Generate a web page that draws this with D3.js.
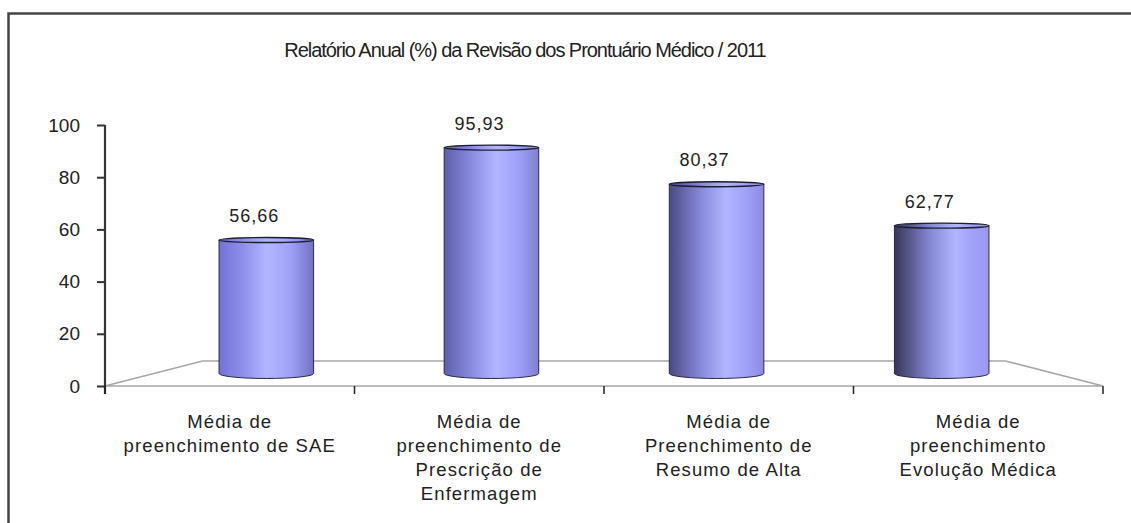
<!DOCTYPE html>
<html><head><meta charset="utf-8">
<script src="https://cdn.jsdelivr.net/npm/d3@7/dist/d3.min.js"></script>
<style>
html,body{margin:0;padding:0;background:#fff;overflow:hidden;}
svg{display:block;font-family:"Liberation Sans",Arial,sans-serif;}
</style></head><body>
<svg id="c" width="1131" height="523"></svg>
<script>
const title = "Relatório Anual (%) da Revisão dos Prontuário Médico / 2011";
const categories = [
  "Média de\npreenchimento de SAE",
  "Média de\npreenchimento de\nPrescrição de\nEnfermagem",
  "Média de\nPreenchimento de\nResumo de Alta",
  "Média de\npreenchimento\nEvolução Médica"
];
const values = [56.66, 95.93, 80.37, 62.77];
const yTicks = [0, 20, 40, 60, 80, 100];

const svg = d3.select("#c");
const W = 1131, H = 523;

// outer frame
svg.append("rect").attr("x", 8.5).attr("y", 13.5).attr("width", W + 20).attr("height", H + 20)
  .attr("fill", "none").attr("stroke", "#454545").attr("stroke-width", 2.5);

// title
svg.append("text").attr("x", 525).attr("y", 57).attr("text-anchor", "middle")
  .attr("font-size", 20).attr("letter-spacing", -1.05).attr("fill", "#222").text(title);

// scales (front plane)
const x = d3.scaleBand().domain(d3.range(categories.length)).range([105, 1103]).paddingInner(0).paddingOuter(0);
const y = d3.scaleLinear().domain([0, 100]).range([386, 125]);

// perspective projection
const VX = 604, VY = 258, K = 0.1954;
function proj(px, py, d) {
  const s = 1 - K * d;
  return [VX + (px - VX) * s, VY + (py - VY) * s];
}

// floor
const fl = [proj(105, y(0), 0), proj(1103, y(0), 0), proj(1103, y(0), 1), proj(105, y(0), 1)];
svg.append("path").attr("d", "M" + fl.map(p => p.join(",")).join("L") + "Z")
  .attr("fill", "#fff").attr("stroke", "#a8a8a8").attr("stroke-width", 1.6);

// y axis
const yAxis = d3.axisLeft(y).tickValues(yTicks).tickSize(8).tickSizeOuter(0).tickPadding(17);
const ga = svg.append("g").attr("transform", "translate(105,0)").call(yAxis);
ga.select(".domain").remove();
ga.selectAll(".tick line").attr("stroke", "#333").attr("stroke-width", 2);
ga.selectAll(".tick text").attr("font-size", 19).attr("fill", "#222")
  .attr("font-family", '"Liberation Sans",Arial,sans-serif');
svg.append("line").attr("x1", 105).attr("x2", 105).attr("y1", y(100)).attr("y2", y(0) + 8)
  .attr("stroke", "#333").attr("stroke-width", 2.2);

// category boundary ticks
const bounds = d3.range(categories.length + 1).map(i => x.range()[0] + i * x.bandwidth());
svg.selectAll("line.ct").data(bounds).enter().append("line").attr("class", "ct")
  .attr("x1", d => d).attr("x2", d => d).attr("y1", y(0)).attr("y2", y(0) + 8)
  .attr("stroke", "#222").attr("stroke-width", 1.5);

// gradients per bar
const defs = svg.append("defs");
const leftC = d3.interpolateRgb("#7272d6", "#363656");
const rightC = d3.interpolateRgb("#7272c4", "#9898ee");
values.forEach((v, i) => {
  const t = i / (values.length - 1);
  const hl = 0.5 + 0.15 * t;
  const g = defs.append("linearGradient").attr("id", "g" + i).attr("x1", 0).attr("x2", 1).attr("y1", 0).attr("y2", 0);
  g.append("stop").attr("offset", 0).attr("stop-color", leftC(t));
  g.append("stop").attr("offset", hl * 0.55).attr("stop-color", d3.interpolateRgb(leftC(t), "#9a9cf6")(0.75));
  g.append("stop").attr("offset", hl).attr("stop-color", "#b2b6ff");
  g.append("stop").attr("offset", hl + (1 - hl) * 0.5).attr("stop-color", "#a0a2fa");
  g.append("stop").attr("offset", 1).attr("stop-color", rightC(t));
});

// cylinders
const bw = x.bandwidth() * 0.42;
const bars = svg.append("g");
const fmt = d3.format(".2f");
values.forEach((v, i) => {
  const cxF = x(i) + x.bandwidth() / 2;
  const [cx, yT] = proj(cxF, y(v), 0.5);
  const [, yB] = proj(cxF, y(0), 0.5);
  const [lx] = proj(cxF - bw / 2, y(0), 0.5);
  const hw = cx - lx;
  const ryB = 5, ryT = 2.5;
  bars.append("path")
    .attr("d", `M${cx - hw},${yT} L${cx - hw},${yB} A${hw},${ryB} 0 0 0 ${cx + hw},${yB} L${cx + hw},${yT} Z`)
    .attr("fill", `url(#g${i})`).attr("stroke", "#2a2a48").attr("stroke-width", 1);
  bars.append("ellipse").attr("cx", cx).attr("cy", yT).attr("rx", hw).attr("ry", ryT)
    .attr("fill", `url(#g${i})`).attr("stroke", "#1e1e30").attr("stroke-width", 1.4);
  // value label
  svg.append("text").attr("x", cx - 12).attr("y", yT - 18).attr("text-anchor", "middle")
    .attr("font-size", 18).attr("letter-spacing", 1.0).attr("fill", "#222")
    .text(fmt(v).replace(".", ","));
});

// category labels
categories.forEach((c, i) => {
  const t = svg.append("text").attr("x", x(i) + x.bandwidth() / 2).attr("y", 428)
    .attr("text-anchor", "middle").attr("font-size", 18.5).attr("letter-spacing", 1.1).attr("fill", "#222");
  c.split("\n").forEach((line, j) => {
    t.append("tspan").attr("x", x(i) + x.bandwidth() / 2).attr("dy", j === 0 ? 0 : 24).text(line);
  });
});
</script>
</body></html>
